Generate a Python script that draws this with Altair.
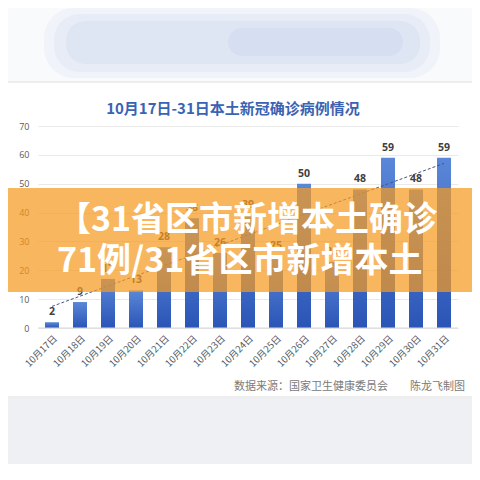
import altair as alt
import pandas as pd

dates = ["10月17日", "10月18日", "10月19日", "10月20日", "10月21日", "10月22日", "10月23日",
         "10月24日", "10月25日", "10月26日", "10月27日", "10月28日", "10月29日", "10月30日", "10月31日"]
cases = [2, 9, 17, 13, 28, 38, 26, 39, 25, 50, 23, 48, 59, 48, 59]
y_ticks = [0, 10, 20, 30, 40, 50, 60, 70]
title_text = "10月17日-31日本土新冠确诊病例情况"
source_text = "数据来源：国家卫生健康委员会　　陈龙飞制图"
banner_lines = ["【31省区市新增本土确诊", "71例/31省区市新增本土"]

df = pd.DataFrame({"date": dates, "cases": cases})
one = alt.Data(values=[{"k": 0}])

FONT = "Noto Sans CJK SC"
W, H = 420, 202

xenc = alt.X("date:N", sort=dates,
             scale=alt.Scale(paddingInner=0.5, paddingOuter=0.25),
             axis=alt.Axis(title=None, labelAngle=-45, labelFontSize=9.5, labelColor="#595959",
                           labelFont=FONT, domain=False, ticks=False, labelPadding=5,
                           labelOverlap=False))
yenc = alt.Y("cases:Q", scale=alt.Scale(domain=[0, 70]),
             axis=alt.Axis(values=y_ticks, title=None, labelFontSize=9, labelColor="#595959",
                           labelFont="Open Sans", domain=False, ticks=False, gridColor="#e9e9e9",
                           labelPadding=9, labelOverlap=False))

base = alt.Chart(df)
bars = base.mark_bar(
    color=alt.Gradient(gradient="linear",
                       stops=[alt.GradientStop(color="#5b87d9", offset=0),
                              alt.GradientStop(color="#2a55b6", offset=1)],
                       x1=0, x2=0, y1=0, y2=1)
).encode(x=xenc, y=yenc)
labels = base.mark_text(dy=-10, fontSize=10.5, fontWeight="bold", color="#404040", font="Open Sans").encode(
    x=xenc, y=yenc, text="cases:Q")
main = alt.layer(bars, labels)
zero = alt.Chart(one).mark_rule(color="#d6d6d6", strokeWidth=1).encode(
    x=alt.value(0), x2=alt.value(W), y=alt.value(H))

trend = base.transform_window(idx="row_number()").transform_regression("idx", "cases").mark_line(
    strokeDash=[3, 2], color="#41577f", strokeWidth=1
).encode(
    x=alt.X("idx:Q", scale=alt.Scale(domain=[0.5, 15.5]), axis=None),
    y=alt.Y("cases:Q", scale=alt.Scale(domain=[0, 70]), axis=None),
)

top_bg = alt.Chart(one).mark_rect(color="#f9fafc").encode(
    x=alt.value(-30), x2=alt.value(434), y=alt.value(-118), y2=alt.value(-44))
blur1 = alt.Chart(one).mark_rect(color="#f0f3f9", cornerRadius=30).encode(
    x=alt.value(6), x2=alt.value(402), y=alt.value(-118), y2=alt.value(-48))
blur2 = alt.Chart(one).mark_rect(color="#e7ecf6", cornerRadius=26).encode(
    x=alt.value(16), x2=alt.value(392), y=alt.value(-112), y2=alt.value(-54))
blur3 = alt.Chart(one).mark_rect(color="#dfe6f3", cornerRadius=20).encode(
    x=alt.value(28), x2=alt.value(382), y=alt.value(-105), y2=alt.value(-62))
blur4 = alt.Chart(one).mark_rect(color="#d6dff1", cornerRadius=14).encode(
    x=alt.value(190), x2=alt.value(365), y=alt.value(-98), y2=alt.value(-70))
bottom_bg = alt.Chart(one).mark_rect(color="#eef0f3").encode(
    x=alt.value(-30), x2=alt.value(434), y=alt.value(272), y2=alt.value(338))
card = alt.Chart(one).mark_rect(fillOpacity=0, stroke="#dedede", strokeWidth=1).encode(
    x=alt.value(-34), x2=alt.value(438), y=alt.value(-44), y2=alt.value(271))

title = alt.Chart(one).mark_text(fontSize=15, fontWeight="bold", color="#3b63b3", font=FONT,
                                 align="center", baseline="middle").encode(
    x=alt.value(195), y=alt.value(-17), text=alt.value(title_text))
source = alt.Chart(one).mark_text(fontSize=11, color="#7a7a7a", font=FONT,
                                  align="right", baseline="middle").encode(
    x=alt.value(427), y=alt.value(261), text=alt.value(source_text))

banner = alt.Chart(one).mark_rect(color="#f59a20", opacity=0.72).encode(
    x=alt.value(-30), x2=alt.value(434), y=alt.value(62), y2=alt.value(166))
b1 = alt.Chart(one).mark_text(fontSize=34, fontWeight="bold", color="white", font=FONT,
                              align="left", baseline="middle").encode(
    x=alt.value(19), y=alt.value(95), text=alt.value(banner_lines[0]))
b2 = alt.Chart(one).mark_text(fontSize=34, fontWeight="bold", color="white", font=FONT,
                              align="left", baseline="middle").encode(
    x=alt.value(19), y=alt.value(136), text=alt.value(banner_lines[1]))

chart = alt.layer(
    top_bg, blur1, blur2, blur3, blur4, bottom_bg, card, main, zero, trend, title, source,
    banner, b1, b2
).resolve_scale(x="independent", y="independent").properties(
    width=W, height=H,
    autosize=alt.AutoSizeParams(type="none"),
    padding={"left": 30, "top": 118, "right": 14, "bottom": 144},
    background="white",
).configure_view(stroke=None)

chart.save("out.html", embed_options={"renderer": "svg", "actions": False})
